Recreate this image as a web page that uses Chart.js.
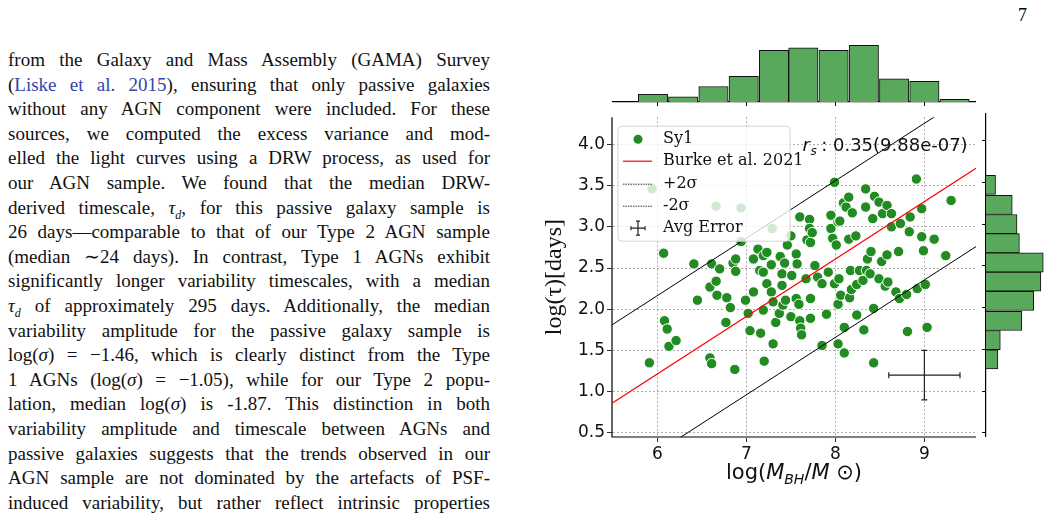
<!DOCTYPE html>
<html><head><meta charset="utf-8">
<script src="https://cdn.jsdelivr.net/npm/chart.js@4"></script>
<style>
body{margin:0;width:1054px;height:514px;overflow:hidden;background:#fff;position:relative;font-family:"Liberation Serif",serif;}
.ln{position:absolute;left:8px;width:482px;font-size:19px;text-align:justify;text-align-last:justify;white-space:nowrap;line-height:22px;color:#111}
a{color:#3344aa;text-decoration:none}
canvas{position:absolute}
#pn{position:absolute;left:1018px;top:5px;font-size:18px}
</style></head><body>
<div id="pn">7</div>
<div id="txt"></div>
<div style="position:absolute;left:540px;top:105px;width:450px;height:409px"><canvas id="sc"></canvas></div>
<div style="position:absolute;left:612px;top:44px;width:364px;height:64px"><canvas id="ht"></canvas></div>
<div style="position:absolute;left:978px;top:113px;width:76px;height:324px"><canvas id="hr"></canvas></div>
<script>
// ---- data ----
const xs=[5.94,6.07,5.91,6.08,6.11,6.13,6.21,6.41,6.45,6.61,6.59,6.66,6.67,6.70,6.59,6.61,6.66,6.77,6.78,6.82,6.85,6.88,6.88,6.87,6.94,6.94,6.99,7.02,7.04,7.08,7.08,7.13,7.15,7.19,7.23,7.19,7.16,7.20,7.19,7.23,7.28,7.28,7.30,7.30,7.33,7.37,7.29,7.38,7.40,7.40,7.41,7.43,7.44,7.46,7.50,7.51,7.50,7.56,7.56,7.57,7.59,7.60,7.60,7.61,7.62,7.67,7.68,7.71,7.71,7.72,7.72,7.72,7.74,7.77,7.80,7.85,7.85,7.90,7.92,7.95,7.95,7.97,7.99,7.99,8.01,8.03,8.04,8.05,8.03,8.03,8.06,8.09,8.10,8.10,8.12,8.15,8.15,8.16,8.17,8.18,8.19,8.23,8.24,8.24,8.27,8.31,8.32,8.34,8.34,8.35,8.36,8.39,8.40,8.42,8.43,8.43,8.44,8.49,8.49,8.52,8.53,8.56,8.58,8.58,8.59,8.63,8.63,8.68,8.71,8.72,8.73,8.80,8.81,8.83,8.84,8.91,8.92,8.97,8.97,8.99,9.01,9.03,9.11,9.24,9.30];
const ys=[3.46,2.68,1.35,1.86,1.76,1.55,1.62,2.55,2.11,2.55,2.27,2.34,2.17,2.49,1.41,1.34,3.25,1.84,2.14,2.02,2.56,2.61,2.46,1.27,3.23,2.82,2.11,1.95,1.74,2.21,2.61,2.73,2.47,2.65,2.69,2.45,1.71,1.37,1.99,2.31,2.54,2.21,2.09,1.58,1.84,1.95,2.98,2.64,2.43,2.29,2.05,2.56,2.11,2.78,2.89,2.41,1.91,2.67,2.13,2.55,2.06,3.12,1.86,1.77,1.69,2.37,2.84,3.09,2.98,2.81,2.13,1.89,2.93,2.53,2.39,2.31,1.56,1.94,2.45,3.14,2.98,2.86,3.54,2.31,2.78,3.06,2.37,3.07,2.06,1.58,2.17,3.29,1.78,1.47,3.24,3.36,2.85,2.14,2.47,2.24,3.17,2.89,2.30,1.93,2.47,2.35,1.75,3.46,3.24,2.47,2.61,2.43,2.70,3.10,1.35,2.01,3.37,2.37,3.30,2.58,3.16,2.28,3.26,2.66,2.33,3.16,3.00,2.21,2.70,2.13,3.04,2.18,1.73,2.94,3.12,3.58,2.25,3.22,2.88,2.71,2.30,1.78,2.85,2.65,3.32];
const lineX=[5.49,9.58];
const burkeY=[0.86,3.71];
const plus2Y=[1.81,4.66];
const minus2Y=[-0.09,2.76];
const errCenter=[9.0,1.2], errHalf=[0.4,0.3];
const xTicks=[6,7,8,9];
const yTicks=[0.5,1.0,1.5,2.0,2.5,3.0,3.5,4.0];
const topBins=[5.95,6.29,6.63,6.97,7.31,7.64,7.98,8.32,8.66,9.00,9.34];
const topCounts=[3,2,6,10,20,21,20,22,9,8,1];
const rightBins=[3.47,3.23,3.00,2.77,2.54,2.31,2.08,1.84,1.61,1.38];
const rightCounts=[4,11,13,14,24,23,20,15,6,5];
const textLines=[
'from the Galaxy and Mass Assembly (GAMA) Survey',
'(<a>Liske et al. 2015</a>), ensuring that only passive galaxies',
'without any AGN component were included. For these',
'sources, we computed the excess variance and mod-',
'elled the light curves using a DRW process, as used for',
'our AGN sample.  We found that the median DRW-',
'derived timescale, <i>τ<sub style="font-size:12px">d</sub></i>, for this passive galaxy sample is',
'26 days—comparable to that of our Type 2 AGN sample',
'(median ∼24 days).  In contrast, Type 1 AGNs exhibit',
'significantly longer variability timescales, with a median',
'<i>τ<sub style="font-size:12px">d</sub></i> of approximately 295 days. Additionally, the median',
'variability amplitude for the passive galaxy sample is',
'log(<i>σ</i>) = −1.46, which is clearly distinct from the Type',
'1 AGNs (log(<i>σ</i>) = −1.05), while for our Type 2 popu-',
'lation, median log(<i>σ</i>) is -1.87. This distinction in both',
'variability amplitude and timescale between AGNs and',
'passive galaxies suggests that the trends observed in our',
'AGN sample are not dominated by the artefacts of PSF-',
'induced variability, but rather reflect intrinsic properties'];
// ---- text ----
const T=document.getElementById('txt');
textLines.forEach((l,i)=>{const d=document.createElement('div');d.className='ln';d.style.top=(49+i*24.6)+'px';d.innerHTML=l;T.appendChild(d);});

const GREEN='#228b22', HIST='#59a85b';
const sans='"DejaVu Sans"';
const overlay={id:'ov',
 beforeDatasetsDraw(c){const ctx=c.ctx,a=c.chartArea;ctx.save();ctx.strokeStyle='#000';ctx.lineWidth=1.2;ctx.setLineDash([]);
  ctx.beginPath();ctx.moveTo(a.left,a.top);ctx.lineTo(a.left,a.bottom);ctx.lineTo(a.right,a.bottom);ctx.stroke();ctx.restore();},
 afterDatasetsDraw(c){
 const ctx=c.ctx,X=c.scales.x,Y=c.scales.y;
 ctx.save();ctx.strokeStyle='#222';ctx.lineWidth=1.2;
 const cx=X.getPixelForValue(errCenter[0]),cy=Y.getPixelForValue(errCenter[1]);
 const x1=X.getPixelForValue(errCenter[0]-errHalf[0]),x2=X.getPixelForValue(errCenter[0]+errHalf[0]);
 const y1=Y.getPixelForValue(errCenter[1]+errHalf[1]),y2=Y.getPixelForValue(errCenter[1]-errHalf[1]);
 ctx.beginPath();ctx.moveTo(x1,cy);ctx.lineTo(x2,cy);ctx.moveTo(cx,y1);ctx.lineTo(cx,y2);
 ctx.moveTo(x1,cy-3);ctx.lineTo(x1,cy+3);ctx.moveTo(x2,cy-3);ctx.lineTo(x2,cy+3);
 ctx.moveTo(cx-3,y1);ctx.lineTo(cx+3,y1);ctx.moveTo(cx-3,y2);ctx.lineTo(cx+3,y2);ctx.stroke();
 const lx=c.chartArea.left+6,ly=c.chartArea.top+9,lw=172,lh=115;
 ctx.fillStyle='rgba(255,255,255,0.8)';ctx.strokeStyle='#d5d5d5';ctx.lineWidth=1;
 ctx.beginPath();ctx.roundRect(lx,ly,lw,lh,4);ctx.fill();ctx.stroke();
 const tx=lx+45;ctx.font='16px "DejaVu Serif"';ctx.fillStyle='#111';ctx.textBaseline='middle';
 const rows=[13,35,58,80,102];
 ['Sy1','Burke et al. 2021','+2σ','-2σ','Avg Error'].forEach((s,i)=>ctx.fillText(s,tx,ly+rows[i]));
 ctx.fillStyle=GREEN;ctx.beginPath();ctx.arc(lx+20,ly+rows[0],4.5,0,7);ctx.fill();
 ctx.strokeStyle='red';ctx.lineWidth=1.2;ctx.beginPath();ctx.moveTo(lx+5,ly+rows[1]);ctx.lineTo(lx+34,ly+rows[1]);ctx.stroke();
 ctx.strokeStyle='#000';ctx.lineWidth=0.8;ctx.setLineDash([1.5,1]);
 [2,3].forEach(i=>{ctx.beginPath();ctx.moveTo(lx+5,ly+rows[i]);ctx.lineTo(lx+34,ly+rows[i]);ctx.stroke();});
 ctx.setLineDash([]);ctx.strokeStyle='#222';ctx.lineWidth=1.2;const ex=lx+20,ey=ly+rows[4];
 ctx.beginPath();ctx.moveTo(ex-7,ey);ctx.lineTo(ex+7,ey);ctx.moveTo(ex,ey-7);ctx.lineTo(ex,ey+7);
 ctx.moveTo(ex-7,ey-2);ctx.lineTo(ex-7,ey+2);ctx.moveTo(ex+7,ey-2);ctx.lineTo(ex+7,ey+2);
 ctx.moveTo(ex-2,ey-7);ctx.lineTo(ex+2,ey-7);ctx.moveTo(ex-2,ey+7);ctx.lineTo(ex+2,ey+7);ctx.stroke();
 ctx.fillStyle='#111';ctx.textBaseline='alphabetic';const ax=X.getPixelForValue(7.63),ay=Y.getPixelForValue(3.92);
 ctx.font='italic 18px '+sans;ctx.fillText('r',ax,ay);ctx.font='italic 12px '+sans;ctx.fillText('s',ax+8,ay+4);
 ctx.font='18px '+sans;ctx.fillText(' : 0.35(9.88e-07)',ax+13,ay);
 const mid=(c.chartArea.left+c.chartArea.right)/2, ty=c.chartArea.bottom+42;
 let parts=[['log(',"21px "+sans,0],['M','italic 21px '+sans,0],['BH','italic 14px '+sans,5],['/','21px '+sans,0],['M','italic 21px '+sans,0],[' ⊙)','21px '+sans,0]];
 let w=0;parts.forEach(p=>{ctx.font=p[1];w+=ctx.measureText(p[0]).width;});
 let px=mid-w/2;parts.forEach(p=>{ctx.font=p[1];ctx.fillText(p[0],px,ty+p[2]);px+=ctx.measureText(p[0]).width;});
 ctx.restore();
}};
const tickFont={family:sans,size:17};
const grid={color:'#999',lineWidth:0.8,tickColor:'#000',tickLength:5};
const border={display:true,color:'rgba(0,0,0,0)',dash:[2,2]};
new Chart(document.getElementById('sc'),{
 data:{datasets:[
  {type:'line',data:lineX.map((x,i)=>({x,y:plus2Y[i]})),borderColor:'#000',borderWidth:1,pointRadius:0},
  {type:'line',data:lineX.map((x,i)=>({x,y:minus2Y[i]})),borderColor:'#000',borderWidth:1,pointRadius:0},
  {type:'line',data:lineX.map((x,i)=>({x,y:burkeY[i]})),borderColor:'red',borderWidth:1.2,pointRadius:0},
  {type:'scatter',data:xs.map((x,i)=>({x,y:ys[i]})),backgroundColor:GREEN,borderColor:'#fff',borderWidth:1,pointRadius:5.2}
 ]},
 plugins:[overlay],
 options:{responsive:true,maintainAspectRatio:false,animation:false,layout:{padding:{right:14,top:8}},
  plugins:{legend:{display:false},tooltip:{enabled:false}},
  scales:{
   x:{type:'linear',min:5.49,max:9.58,afterBuildTicks:s=>{s.ticks=xTicks.map(v=>({value:v}));},
      ticks:{font:tickFont,color:'#111',padding:2},grid,border,
      afterFit:s=>{s.height=77;}},
   y:{type:'linear',min:0.45,max:4.33,afterBuildTicks:s=>{s.ticks=yTicks.map(v=>({value:v}));},
      ticks:{font:tickFont,color:'#111',padding:2,callback:v=>v.toFixed(1)},grid,border,
      title:{display:true,text:'log(τ)[days]',font:{family:'Liberation Serif',size:24},color:'#111',padding:0},
      afterFit:s=>{s.width=72;}}
  }}});
new Chart(document.getElementById('ht'),{type:'bar',
 data:{datasets:[{data:topBins.map((x,i)=>({x,y:topCounts[i]})),backgroundColor:HIST,borderColor:'#111',borderWidth:1,barPercentage:1,categoryPercentage:1}]},
 options:{responsive:true,maintainAspectRatio:false,animation:false,layout:{padding:0},plugins:{legend:{display:false},tooltip:{enabled:false}},
  scales:{x:{type:'linear',offset:false,min:5.49,max:9.58,afterBuildTicks:s=>{s.ticks=xTicks.map(v=>({value:v}));},ticks:{display:false},
    grid:{offset:false,drawOnChartArea:false,tickLength:4,color:'#000'},border:{color:'#000',width:1.2},afterFit:s=>{s.height=6;}},
   y:{display:false,min:0,max:22.5}}}});
new Chart(document.getElementById('hr'),{type:'bar',
 data:{datasets:[{data:rightBins.map((y,i)=>({y,x:rightCounts[i]})),backgroundColor:HIST,borderColor:'#111',borderWidth:1,barPercentage:1,categoryPercentage:1}]},
 options:{indexAxis:'y',responsive:true,maintainAspectRatio:false,animation:false,layout:{padding:0},plugins:{legend:{display:false},tooltip:{enabled:false}},
  scales:{y:{type:'linear',offset:false,min:0.45,max:4.33,afterBuildTicks:s=>{s.ticks=yTicks.map(v=>({value:v}));},ticks:{display:false},
    grid:{offset:false,drawOnChartArea:false,tickLength:4,color:'#000'},border:{color:'#000',width:1.2},afterFit:s=>{s.width=8;}},
   x:{display:false,min:0,max:28.5}}}});
</script></body></html>
